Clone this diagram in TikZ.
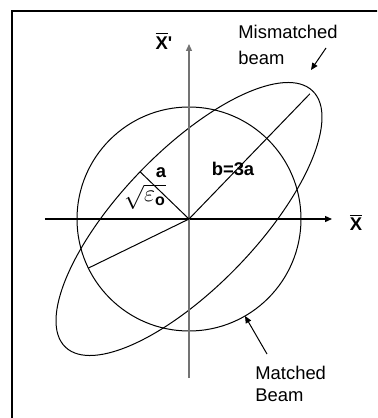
\documentclass[tikz,border=0pt]{standalone}
\usepackage{fontspec}
\setmainfont{Liberation Sans}
\usetikzlibrary{arrows.meta}

\begin{document}
\begin{tikzpicture}[
  x=0.5pt, y=0.5pt,
  font=\fontsize{9.2}{11}\selectfont,
  frame/.style={line width=1pt},
  curve/.style={line width=0.5pt},
  axis/.style={-{Triangle[length=3.5pt,width=3pt]}, line width=0.65pt},
  ptr/.style={-{Triangle[length=3.5pt,width=3pt]}, line width=0.5pt},
  lbl/.style={font=\fontsize{9.2}{11}\selectfont\bfseries, inner sep=0pt},
  note/.style={align=left, inner sep=0pt, anchor=north west}
]
\clip (-189,-199) rectangle (188,219);
\draw[frame] (-177,-230) rectangle (230,208);

\coordinate (o) at (0,0);
\coordinate (xl) at (-144,0);
\coordinate (xr) at (143,0);
\coordinate (yb) at (0,-159);
\coordinate (yt) at (0,175);

% beams
\draw[curve] (o) circle[radius=112];
\draw[curve, rotate=46] (o) ellipse[x radius=178, y radius=68];

% axes
\draw[axis] (xl) -- (xr);
\draw[axis, black!55] (yb) -- (yt);

% half axes and radius
\coordinate (tipb) at (46:174);
\coordinate (tipa) at (136:68);
\coordinate (rim) at (206:112);
\draw[curve] (o) -- (tipb);
\draw[curve] (o) -- (tipa);
\draw[curve] (o) -- (rim);

\node[lbl] (xlab) at (167,-3.5) {$\overline{\mbox{\bfseries X}}$};
\node[lbl] (xplab) at (-25,178) {$\overline{\mbox{\bfseries X}}$\textquotesingle};
\node[lbl] (blab) at (44,50.5) {b=3a};
\node[lbl] (alab) at (-28,46) {a};
\node[inner sep=0pt, font=\fontsize{12}{14}\selectfont] (rlab) at (-44,22) {$\sqrt{\varepsilon_{\mathbf{o}}}$};

\node[note] (mis) at (49,194.5) {Mismatched\\[2pt]beam};
\node[note] (mat) at (66,-146.5) {Matched\\Beam};

\coordinate (misfrom) at (137,171);
\coordinate (misto) at (122,149);
\coordinate (matfrom) at (78,-135);
\coordinate (matto) at (56,-97);
\draw[ptr] (misfrom) -- (misto);
\draw[ptr] (matfrom) -- (matto);
\end{tikzpicture}
\end{document}
